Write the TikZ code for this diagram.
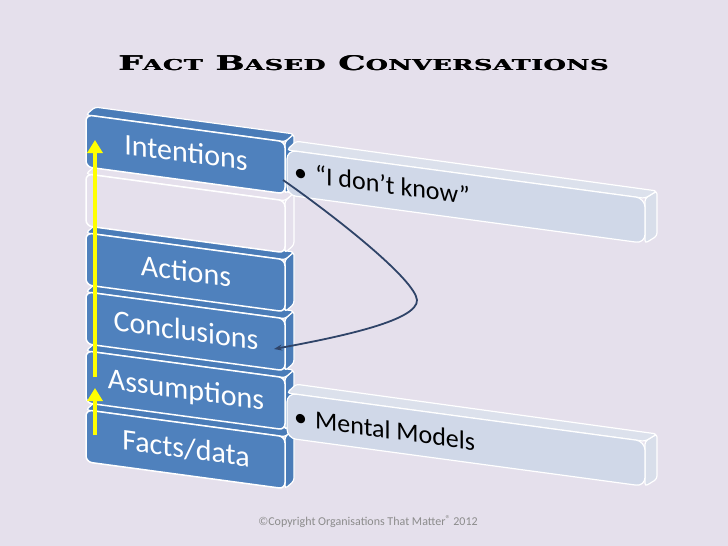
\documentclass[tikz,border=0pt]{standalone}
\usepackage{fontspec}
\usepackage{graphicx}
\setmainfont{Carlito}
\newfontfamily\titlefont[LetterSpace=2]{DejaVu Serif}
\usetikzlibrary{arrows.meta}
\definecolor{bgcol}{HTML}{E5E0EC}
\definecolor{boxblue}{HTML}{4F81BD}
\definecolor{boxside}{HTML}{4A7CB8}
\definecolor{barfront}{HTML}{D0D8E8}
\definecolor{bartop}{HTML}{DCE1EC}
\definecolor{barend}{HTML}{D8DEEA}
\definecolor{loopcol}{HTML}{2F4468}
\definecolor{copygray}{HTML}{8C8C8C}
\newcommand\smc[1]{{\fontsize{7.4pt}{8pt}\selectfont #1}}
\newcommand\titletext{\resizebox{490pt}{15pt}{F\smc{ACT} B\smc{ASED} C\smc{ONVERSATIONS}}}
% #1 top (pre-skew), #2 front style, #3 face style
\newcommand\slabbox[3]{%
  \draw[#3] (285,#1) -- (294,#1-9) -- (294,#1+43) -- (285,#1+52) -- cycle;
  \draw[#3] (86,#1) -- (95,#1-9) -- (294,#1-9) -- (285,#1) -- cycle;
  \draw[#2] (86,#1) rectangle (285,#1+52);
}
\newcommand\slabbar[1]{%
  \draw[barface,fill=barend] (645,#1) -- (657,#1-9) -- (657,#1+36) -- (645,#1+45) -- cycle;
  \draw[barface,fill=bartop] (287,#1) -- (296,#1-10) -- (657,#1-9) -- (645,#1) -- cycle;
  \draw[barface,fill=barfront,rounded corners=9pt] (287,#1) rectangle (645,#1+45);
}
\tikzset{
  bluefront/.style={fill=boxblue, draw=white, line width=1.5pt, rounded corners=6pt},
  blueface/.style={fill=boxside, draw=white, line width=1.2pt, rounded corners=3pt},
  blankfront/.style={fill=bgcol, draw=white, line width=1.5pt, rounded corners=6pt},
  blankface/.style={fill=bgcol, draw=white, line width=1.2pt, rounded corners=3pt},
  barface/.style={draw=white, line width=1.2pt, rounded corners=3pt},
  boxtext/.style={text=white, font=\fontsize{30pt}{30pt}\selectfont, transform shape, inner sep=0pt, anchor=base},
  bartext/.style={text=black, font=\fontsize{26pt}{26pt}\selectfont, transform shape, inner sep=0pt, anchor=base west},
  titlestyle/.style={anchor=base west, inner sep=0pt, font=\titlefont\bfseries},
  yellowarrow/.style={draw={rgb,255:red,255;green,255;blue,0}, line width=4.5pt, -{Triangle[width=15pt,length=13pt]}},
  looparrow/.style={draw=loopcol, line width=1.8pt, -{Stealth[length=8pt,width=6pt]}},
}
\begin{document}
\begin{tikzpicture}[x=1pt,y=-1pt]
\useasboundingbox (0,0) rectangle (728,546);
\fill[bgcol] (0,0) rectangle (728,546);

% title (overprinted slightly to thicken strokes)
\node[titlestyle] (titleb) at (118.6,70) {\titletext};
\node[titlestyle] (title) at (118,70) {\titletext};

% slanted stack
\begin{scope}[cm={1,-0.135,0,1,(0pt,11.745pt)}]
  \slabbox{410}{bluefront}{blueface}
  \slabbox{351}{bluefront}{blueface}
  \slabbox{292}{bluefront}{blueface}
  \slabbox{233}{bluefront}{blueface}
  \slabbox{174}{blankfront}{blankface}
  \slabbox{115}{bluefront}{blueface}
  \slabbar{123}
  \slabbar{366}

  \node[boxtext] (intentions) at (186,149) {Intentions};
  \node[boxtext] (actions) at (186,268) {Actions};
  \node[boxtext] (conclusions) at (186,327) {Conclusions};
  \node[boxtext] (assumptions) at (186,386) {Assumptions};
  \node[boxtext] (facts) at (186,445) {Facts/data};

  \node[bartext] (dontknow) at (294,153) {•\hspace{8pt}“I don’t know”};
  \node[bartext] (mental) at (294,398) {•\hspace{8pt}Mental Models};
\end{scope}

% yellow arrows
\coordinate (factstop) at (95,435);
\coordinate (assumtip) at (95,388);
\coordinate (assumtop) at (95,377);
\coordinate (intenttip) at (95,140);
\draw[yellowarrow] (factstop) -- (assumtip);
\draw[yellowarrow] (assumtop) -- (intenttip);

% loop arrow
\coordinate (loopstart) at (283,180);
\coordinate (loopturn) at (417,300);
\coordinate (loopend) at (274,349);
\draw[looparrow] (loopstart) .. controls (340,220) and (415,280) .. (loopturn)
  .. controls (418,320) and (345,336) .. (loopend);

% copyright
\node[text=copygray, font=\fontsize{12pt}{13pt}\selectfont, inner sep=0pt] (copy) at (368,522)
  {©Copyright Organisations That Matter\raisebox{3pt}{\fontsize{10pt}{10pt}\selectfont ®} 2012};
\end{tikzpicture}
\end{document}
